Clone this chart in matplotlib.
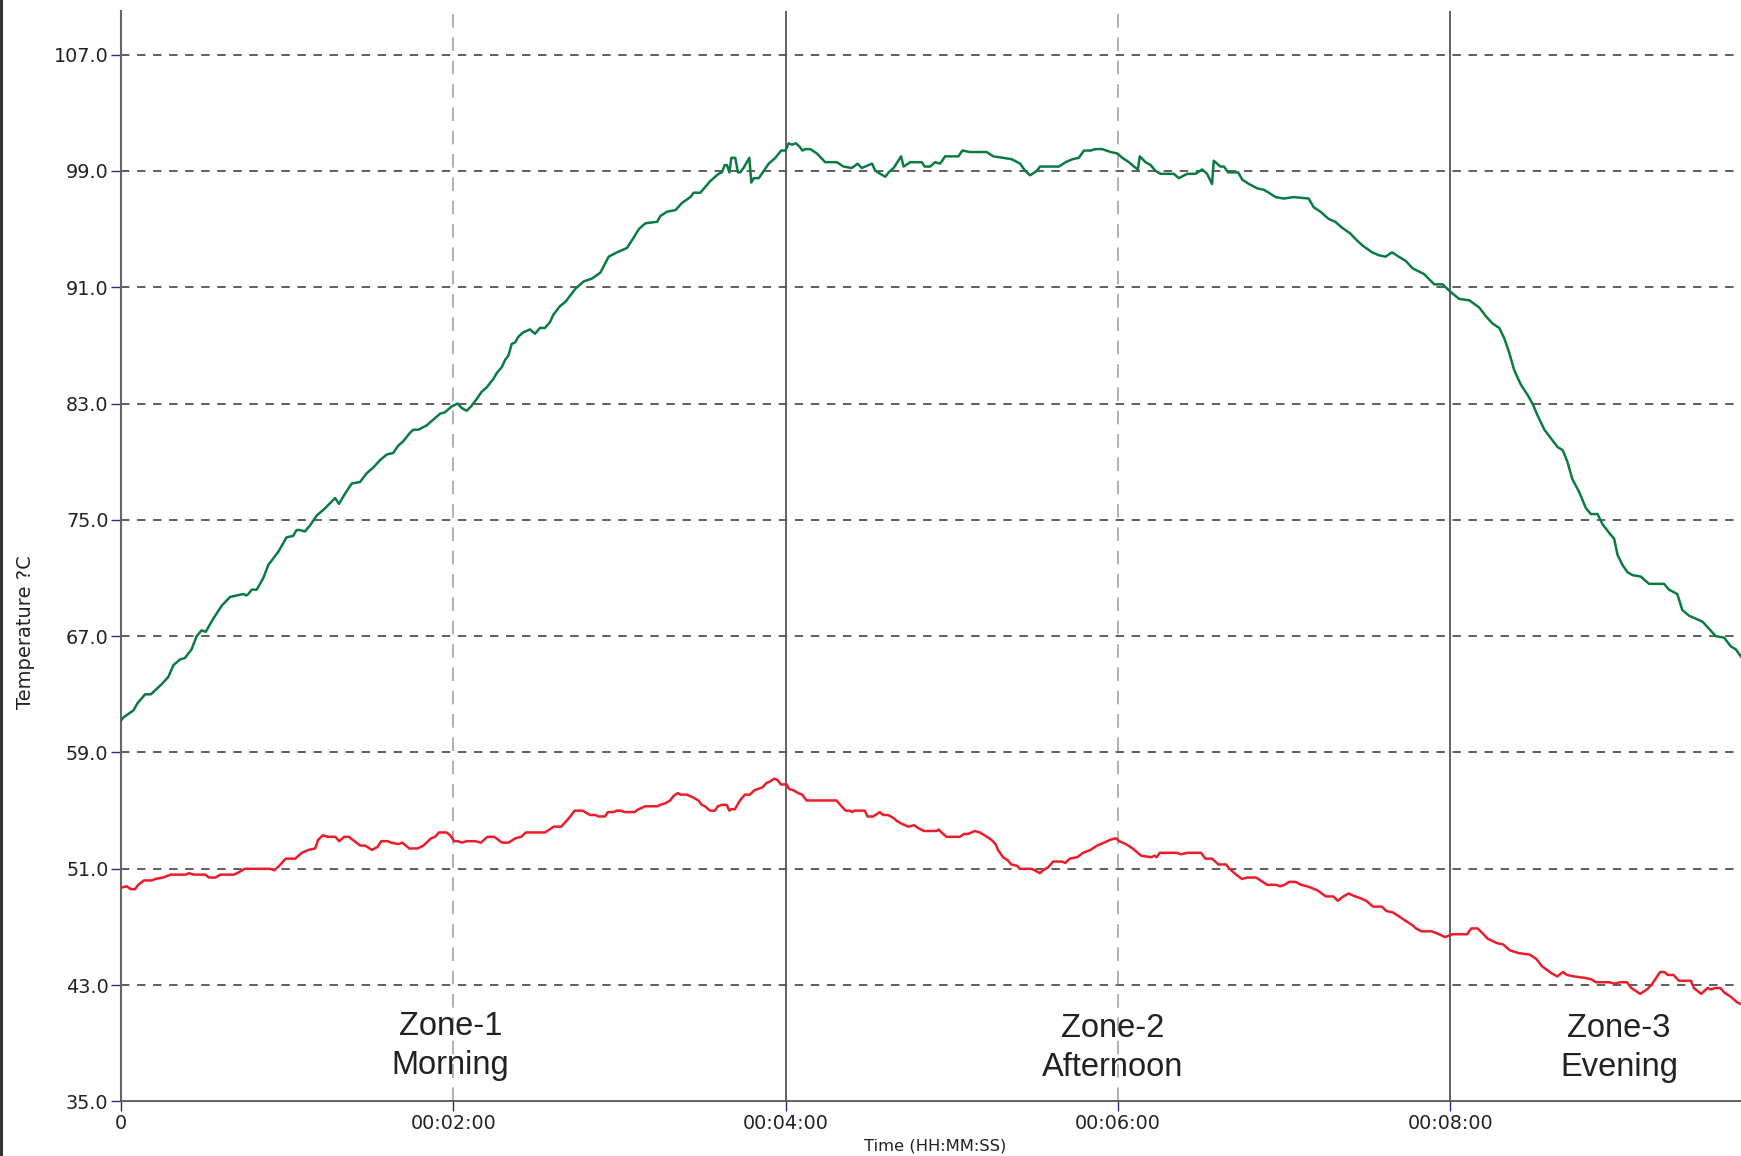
import matplotlib
matplotlib.use("Agg")
import matplotlib.pyplot as plt
from matplotlib.lines import Line2D

# time in seconds, temperature in deg C
green_t = [0, 0.8, 4.5, 6.0, 8.7, 10.8, 14.7, 17.1, 18.9, 21.3, 23.1, 25.5, 27.3, 29.1, 30.6,
           33.3, 36.4, 39.4, 44.2, 45.2, 46.0, 47.2, 49.0, 51.4, 53.2, 56.8, 59.8, 62.2, 63.4,
           64.6, 66.4, 68.2, 70.7, 73.7, 77.3, 78.7, 80.9, 83.3, 86.3, 88.7, 91.1, 93.5, 96.0,
           98.3, 100.1, 101.9, 104.4, 105.6, 107.4, 110.4, 114.0, 115.2, 117.0, 119.4, 121.6,
           123.0, 124.8, 126.4, 128.4, 130.2, 132.0, 134.5, 135.7, 137.5, 138.7, 139.9, 141.1,
           142.3, 143.5, 145.3, 147.7, 149.5, 151.3, 153.1, 154.9, 156.1, 158.5, 160.5, 164.1,
           167.1, 170.1, 173.1, 176.1, 179.1, 182.7, 185.1, 187.0, 189.4, 193.6, 194.8, 197.2,
           200.2, 202.6, 205.6, 206.8, 209.2, 212.8, 215.8, 217.0, 218.0, 218.8, 219.7, 220.4,
           221.8, 222.8, 223.6, 224.8, 226.9, 227.6, 228.5, 230.3, 232.1, 233.9, 236.3, 238.4,
           239.9, 241.1, 242.3, 243.7, 244.9, 246.1, 247.1, 248.9, 251.3, 254.3, 258.5, 260.9,
           263.9, 266.0, 267.5, 271.2, 272.4, 276.0, 277.2, 279.0, 281.7, 282.6, 285.0, 289.2,
           290.2, 292.2, 294.0, 295.8, 297.6, 302.4, 303.8, 306.6, 312.6, 315.0, 318.6, 321.7,
           324.7, 326.5, 328.3, 330.7, 331.9, 338.7, 341.1, 343.5, 345.9, 347.7, 350.1, 351.9,
           354.3, 357.4, 359.8, 361.6, 364.0, 365.8, 367.2, 367.9, 370.0, 371.8, 373.6, 375.4,
           380.2, 382.0, 385.0, 388.0, 390.4, 392.2, 394.0, 394.6, 397.0, 398.3, 399.8, 403.4,
           404.9, 407.3, 410.3, 412.7, 414.5, 416.9, 419.9, 423.5, 428.9, 430.7, 433.1, 436.1,
           438.5, 440.9, 443.9, 446.4, 448.8, 451.8, 454.2, 456.6, 459.0, 461.4, 464.0, 466.4,
           470.6, 474.2, 477.2, 480.0, 483.2, 486.9, 490.5, 492.9, 495.3, 497.7, 499.5, 501.3,
           503.1, 505.5, 507.9, 509.7, 511.5, 514.0, 516.4, 518.8, 520.6, 522.3, 524.1, 526.6,
           529.0, 530.8, 533.2, 535.0, 537.4, 539.2, 540.4, 542.2, 544.0, 545.8, 548.8, 551.8,
           557.2, 559.0, 562.0, 563.8, 566.3, 571.1, 575.9, 578.9, 581.3, 583.1, 585.0]
green_temp = [61.2, 61.4, 61.9, 62.4, 63.0, 63.0, 63.7, 64.2, 65.0, 65.4, 65.5, 66.1, 67.0, 67.4, 67.3,
              68.2, 69.1, 69.7, 69.9, 69.8, 69.9, 70.2, 70.2, 71.0, 71.9, 72.8, 73.8, 73.9, 74.3,
              74.3, 74.2, 74.6, 75.3, 75.8, 76.5, 76.1, 76.8, 77.5, 77.6, 78.2, 78.6, 79.1, 79.5,
              79.6, 80.1, 80.4, 81.0, 81.2, 81.2, 81.5, 82.1, 82.3, 82.4, 82.8, 83.0,
              82.7, 82.5, 82.8, 83.3, 83.8, 84.1, 84.7, 85.1, 85.5, 86.0, 86.3, 87.1,
              87.2, 87.6, 87.9, 88.1, 87.8, 88.2, 88.2, 88.6, 89.1, 89.7, 90.0, 90.9,
              91.4, 91.6, 92.0, 93.1, 93.4, 93.7, 94.4, 95.0, 95.4, 95.5, 95.9, 96.2,
              96.3, 96.8, 97.2, 97.5, 97.5, 98.3, 98.8, 98.9, 99.4, 99.4, 98.9, 99.9,
              99.9, 98.9, 98.9, 99.2, 99.9, 98.2, 98.5, 98.5, 99.0, 99.5, 99.9, 100.4,
              100.4, 100.9, 100.8, 100.9, 100.7, 100.4, 100.5, 100.5, 100.2, 99.6, 99.6, 99.3,
              99.2, 99.5, 99.2, 99.5, 99.0, 98.6, 98.9, 99.2, 100.0, 99.3, 99.6, 99.6,
              99.3, 99.3, 99.6, 99.5, 100.0, 100.0, 100.4, 100.3, 100.3, 100.0, 99.9, 99.8,
              99.5, 99.0, 98.7, 99.0, 99.3, 99.3, 99.6, 99.8, 99.9, 100.4, 100.4, 100.5,
              100.5, 100.3, 100.2, 99.9, 99.6, 99.3, 99.1, 100.0, 99.6, 99.4, 99.0, 98.8,
              98.8, 98.5, 98.8, 98.8, 99.1, 98.8, 98.1, 99.7, 99.3, 99.3, 98.9, 98.9,
              98.4, 98.1, 97.8, 97.7, 97.5, 97.2, 97.1, 97.2, 97.1, 96.5, 96.2, 95.7,
              95.5, 95.1, 94.7, 94.2, 93.8, 93.4, 93.2, 93.1, 93.4, 93.1, 92.8, 92.3,
              91.9, 91.2, 91.2, 90.7, 90.2, 90.1, 89.6, 89.0, 88.5, 88.2, 87.5, 86.5,
              85.3, 84.3, 83.6, 83.0, 82.2, 81.2, 80.6, 80.0, 79.8, 79.0, 77.8, 76.9,
              75.8, 75.4, 75.4, 74.7, 74.1, 73.7, 72.6, 71.9, 71.4, 71.2, 71.1, 70.6,
              70.6, 70.2, 69.9, 68.8, 68.4, 68.0, 67.0, 66.9, 66.3, 66.1, 65.6]

red_t = [0, 2.1, 3.5, 5.1, 6.2, 8.3, 11.1, 12.4, 15.2, 18.0, 23.5, 24.5, 26.3, 30.4, 31.8, 34.1,
         35.9, 40.8, 42.9, 44.7, 53.9, 55.3, 57.1, 59.5, 62.9, 65.3, 67.7, 70.1, 71.2, 72.9,
         74.7, 77.4, 78.8, 80.6, 82.3, 83.6, 86.4, 88.1, 90.6, 92.6, 94.0, 96.4, 97.5, 100.2,
         101.6, 104.1, 107.1, 109.2, 112.0, 113.4, 114.8, 117.5, 118.9, 120.3, 121.7, 123.0,
         124.8, 127.9, 130.0, 132.3, 134.8, 137.6, 140.0, 142.4, 144.5, 146.2, 153.1, 156.3,
         159.0, 160.4, 161.8, 163.8, 166.7, 169.4, 171.4, 172.4, 174.8, 175.8, 177.8, 179.0,
         180.6, 181.8, 185.4, 186.9, 189.3, 193.8, 194.7, 196.5, 198.3, 199.5, 201.0, 202.2,
         204.3, 206.7, 208.5, 209.7, 210.9, 212.7, 214.5, 215.5, 216.9, 218.7, 219.7, 220.3,
         221.7, 223.5, 225.3, 227.1, 228.7, 230.1, 231.6, 233.1, 234.3, 235.9, 237.1, 238.3,
         240.4, 241.2, 242.8, 244.6, 246.0, 247.6, 258.4, 260.2, 261.7, 263.2, 264.1, 264.8,
         268.6, 269.6, 271.6, 274.0, 275.2, 277.0, 278.9, 280.1, 281.9, 284.3, 286.4, 287.9,
         290.0, 294.5, 295.3, 296.3, 298.1, 302.9, 304.5, 305.9, 308.3, 310.1, 311.9, 314.3,
         315.8, 316.7, 318.5, 320.1, 321.5, 323.7, 324.5, 328.7, 329.9, 331.8, 333.0, 334.8,
         336.6, 339.8, 341.0, 342.6, 345.3, 347.4, 350.1, 352.5, 355.0, 357.3, 359.2, 360.5,
         362.9, 365.3, 368.4, 372.0, 373.2, 374.0, 375.1, 381.2, 382.8, 385.2, 390.0, 391.6,
         394.0, 396.3, 399.0, 400.3, 402.7, 404.8, 406.7, 409.9, 411.5, 413.9, 417.1, 418.6,
         420.2, 421.8, 424.2, 426.1, 428.2, 429.8, 432.2, 435.1, 437.8, 439.4, 441.4, 443.3,
         445.7, 447.3, 449.7, 452.1, 455.3, 456.9, 459.3, 461.7, 464.1, 466.5, 467.6, 469.6,
         473.3, 476.0, 478.1, 480.8, 486.1, 487.6, 489.9, 492.0, 493.5, 496.7, 499.1, 501.5,
         504.7, 508.7, 511.1, 513.1, 516.7, 518.7, 520.7, 522.2, 524.6, 528.6, 531.0, 532.6,
         537.4, 539.3, 541.4, 543.8, 545.4, 548.6, 551.0, 552.6, 555.8, 557.4, 558.5, 560.6,
         562.6, 566.9, 568.0, 570.6, 572.9, 574.1, 575.7, 577.6, 578.9, 581.3, 583.7, 585.0]
red_temp = [49.7, 49.8, 49.6, 49.6, 49.9, 50.2, 50.2, 50.3, 50.4, 50.6, 50.6, 50.7, 50.6, 50.6, 50.4, 50.4,
            50.6, 50.6, 50.8, 51.0, 51.0, 50.9, 51.2, 51.7, 51.7, 52.1, 52.3, 52.4, 53.0, 53.3,
            53.2, 53.2, 52.9, 53.2, 53.2, 53.0, 52.6, 52.6, 52.3, 52.5, 52.9, 52.9, 52.8, 52.7,
            52.8, 52.4, 52.4, 52.6, 53.1, 53.2, 53.5, 53.5, 53.3, 52.9, 52.9, 52.8,
            52.9, 52.9, 52.8, 53.2, 53.2, 52.8, 52.8, 53.1, 53.2, 53.5, 53.5, 53.9,
            53.9, 54.2, 54.5, 55.0, 55.0, 54.7, 54.7, 54.6, 54.6, 54.9, 54.9, 55.0,
            55.0, 54.9, 54.9, 55.1, 55.3, 55.3, 55.4, 55.5, 55.7, 56.0, 56.2, 56.1,
            56.1, 55.9, 55.7, 55.4, 55.3, 55.0, 55.0, 55.3, 55.4, 55.4, 55.0, 55.1,
            55.1, 55.7, 56.1, 56.1, 56.4, 56.5, 56.6, 56.9, 57.0, 57.2, 57.1, 56.8,
            56.8, 56.5, 56.4, 56.2, 56.1, 55.7, 55.7, 55.3, 55.0, 55.0, 54.9, 55.0,
            55.0, 54.6, 54.6, 54.9, 54.7, 54.7, 54.5, 54.3, 54.1, 53.9, 54.0, 53.8,
            53.6, 53.6, 53.7, 53.5, 53.2, 53.2, 53.4, 53.4, 53.6, 53.5, 53.3, 53.0,
            52.7, 52.3, 51.8, 51.6, 51.3, 51.2, 51.0, 51.0, 50.9, 50.7, 50.9, 51.1,
            51.5, 51.5, 51.4, 51.7, 51.8, 52.1, 52.3, 52.6, 52.8, 53.0, 53.1, 52.9,
            52.7, 52.4, 51.9, 51.8, 51.9, 51.8, 52.1, 52.1, 52.0, 52.1, 52.1, 51.7,
            51.7, 51.3, 51.3, 51.0, 50.6, 50.3, 50.4, 50.4, 50.2, 49.9, 49.9, 49.8,
            49.9, 50.1, 50.1, 49.9, 49.8, 49.7, 49.5, 49.1, 49.1, 48.8, 49.1, 49.3,
            49.1, 49.0, 48.8, 48.4, 48.4, 48.1, 48.0, 47.7, 47.4, 47.1, 46.9, 46.7,
            46.7, 46.5, 46.3, 46.5, 46.5, 46.9, 46.9, 46.5, 46.2, 45.9, 45.8, 45.4,
            45.2, 45.1, 44.8, 44.3, 43.8, 43.6, 43.9, 43.7, 43.6, 43.5, 43.4, 43.2,
            43.2, 43.1, 43.2, 43.2, 42.8, 42.4, 42.7, 43.0, 43.9, 43.9, 43.7, 43.7,
            43.3, 43.3, 42.8, 42.4, 42.8, 42.7, 42.8, 42.8, 42.5, 42.2, 41.8, 41.7]

x_ticks = [0, 120, 240, 360, 480]
x_tick_labels = ["0", "00:02:00", "00:04:00", "00:06:00", "00:08:00"]
y_ticks = [35, 43, 51, 59, 67, 75, 83, 91, 99, 107]

zone_labels = ["Zone-1\nMorning", "Zone-2\nAfternoon", "Zone-3\nEvening"]
zone_t = [119, 358, 541]
zone_y = [38.8, 38.65, 38.7]

fig = plt.figure(figsize=(17.41, 11.56), dpi=100, facecolor="white")
ax = fig.add_axes([0.0695, 0.0472, 0.9305, 0.9433])

# grid: dashed horizontal lines, light dashed / solid dark vertical lines
for y in y_ticks[1:]:
    ax.axhline(y, color="#333333", lw=1.1, ls=(0, (5.5, 5)), zorder=1)
for x in [120, 360]:
    ax.axvline(x, color="#b0b0b0", lw=1.4, ls=(0, (7, 5)), zorder=1)
for x in [240, 480]:
    ax.axvline(x, color="#555555", lw=1.3, zorder=1)

ax.plot(green_t, green_temp, color="#0a7c43", lw=1.8, zorder=3)
ax.plot(red_t, red_temp, color="#ee1c2a", lw=1.8, zorder=3)

ax.set_xlim(0, 585)
ax.set_ylim(35, 110)
ax.set_xticks(x_ticks)
ax.set_xticklabels(x_tick_labels)
ax.set_yticks(y_ticks)
ax.set_yticklabels([f"{v:.1f}" for v in y_ticks])
ax.tick_params(axis="both", colors="#2b2b80", length=7, width=1, labelsize=13.8,
               labelcolor="#222222", pad=2)

ax.spines["top"].set_visible(False)
ax.spines["right"].set_visible(False)
ax.spines["left"].set_color("#666666")
ax.spines["left"].set_linewidth(1.5)
ax.spines["bottom"].set_color("#555555")
ax.spines["bottom"].set_linewidth(1.3)

# axis titles sit where the reference puts them (y title is below centre)
ax.set_ylabel("Temperature ?C", fontsize=14, color="#222222")
ax.yaxis.set_label_coords(-0.0528, 0.43)
ax.set_xlabel("Time (HH:MM:SS)", fontsize=11.8, color="#222222")
ax.xaxis.set_label_coords(0.5025, -0.034)

for label, t, y in zip(zone_labels, zone_t, zone_y):
    ax.text(t, y, label, ha="center", va="center", fontsize=23.5,
            family="Liberation Sans", color="#222222", linespacing=1.33, zorder=4)

# dark border on the left edge of the image
fig.add_artist(Line2D([0.0008, 0.0008], [0, 1], color="#333333", lw=2.2))

fig.savefig("out.png", dpi=100, facecolor="white")
